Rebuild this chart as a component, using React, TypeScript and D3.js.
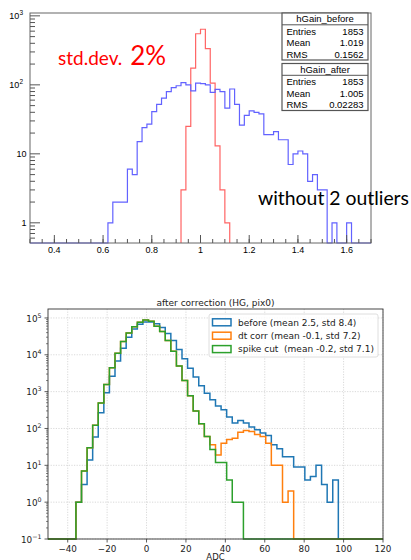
import React from "react";
import * as d3 from "d3";

// ---- top panel (ROOT canvas): gain histograms ----
const gainBinStart = 0.3;
const gainBinWidth = 0.02;
const gainBinCount = 70;
const beforeFirstBin = 0.62;
const gainBefore = [
  1, 2, 2, 2, 6, 5, 15, 24, 27, 41, 52, 64, 80, 91, 97, 108, 100, 82, 106, 104,
  100, 78, 86, 80, 46, 87, 52, 26, 36, 42, 40, 38, 19, 19, 21, 16, 16, 7, 10, 11,
  10, 4, 5, 3, 3, 0, 1, 0, 0, 1,
];
const afterFirstBin = 0.92;
const gainAfter = [3, 25, 175, 550, 640, 335, 106, 13, 3, 1];
const gainXTicks = [0.4, 0.6, 0.8, 1, 1.2, 1.4, 1.6];
const gainXLabels = ["0.4", "0.6", "0.8", "1", "1.2", "1.4", "1.6"];
const gainYExps = [0, 1, 2, 3];
const statsBefore = [["Entries", "1853"], ["Mean", "1.019"], ["RMS", "0.1562"]];
const statsAfter = [["Entries", "1853"], ["Mean", "1.005"], ["RMS", "0.02283"]];

// ---- bottom panel (matplotlib): ADC histograms, 60 bins on [-50, 120] ----
const adcBinStart = -50;
const adcBinWidth = 170 / 60;
const adcBefore = [
  0, 0, 0, 0, 0, 1, 3, 14, 59, 266, 930, 2600, 6800, 15000, 30000, 50000, 67000, 78000, 78000, 70000,
  55000, 38000, 24500, 14000, 7800, 4300, 2500, 1450, 910, 600, 410, 320, 205, 140, 165, 140, 110, 93, 75, 64,
  36, 28, 17, 17, 9, 9, 4, 5, 10, 3, 1, 4, 0, 0, 0, 0, 0, 0, 0, 0,
];
const adcDtCorr = [
  0, 0, 0, 0, 0, 1, 7, 30, 123, 490, 1550, 4450, 11000, 23000, 39000, 58000, 76000, 88000, 82000, 60000,
  43000, 24500, 12400, 5000, 2000, 770, 300, 134, 61, 36, 19, 40, 50, 54, 79, 88, 83, 69, 61, 40,
  10, 10, 1, 2, 0, 0, 0, 0, 0, 0, 0, 0, 0, 0, 0, 0, 0, 0, 0, 0,
];
const adcSpikeCut = [
  0, 0, 0, 0, 0, 1, 7, 30, 123, 490, 1550, 4450, 11000, 23000, 39000, 58000, 76000, 88000, 82000, 60000,
  43000, 24500, 12400, 5000, 2000, 770, 300, 134, 61, 27, 12, 12, 4, 1, 1, 0, 0, 0, 0, 0,
  0, 0, 0, 0, 0, 0, 0, 0, 0, 0, 0, 0, 0, 0, 0, 0, 0, 0, 0, 0,
];
const adcXTicks = [-40, -20, 0, 20, 40, 60, 80, 100, 120];
const adcYExps = [-1, 0, 1, 2, 3, 4, 5];
const legendLabels = [
  "before (mean 2.5, std 8.4)",
  "dt corr (mean -0.1, std 7.2)",
  "spike cut  (mean -0.2, std 7.1)",
];
const legendColors = ["#1f77b4", "#ff7f0e", "#2ca02c"];

type Pt = [number, number];

function stepPath(
  x: d3.ScaleLinear<number, number>,
  y: d3.ScaleLogarithmic<number, number>,
  first: number,
  width: number,
  counts: number[],
  floor: number,
  from?: number,
  to?: number
) {
  const pts: Pt[] = [];
  if (from !== undefined) pts.push([from, floor]);
  pts.push([first, floor]);
  counts.forEach((c, i) => pts.push([first + i * width, Math.max(c, floor)]));
  const end = first + counts.length * width;
  pts.push([end, Math.max(counts[counts.length - 1], floor)]);
  pts.push([end, floor]);
  if (to !== undefined) pts.push([to, floor]);
  return (
    d3
      .line<Pt>()
      .x((d) => x(d[0]))
      .y((d) => y(d[1]))
      .curve(d3.curveStepAfter)(pts) || ""
  );
}

const rootFont = "Liberation Sans, Arial, sans-serif";
const mplFont = "DejaVu Sans, sans-serif";

const TopPanel = () => {
  const L = 30, R = 371, T = 13, B = 243;
  const yMin = 0.51;
  const x = d3.scaleLinear().domain([0.3, 1.7]).range([L, R]);
  const y = d3.scaleLog().domain([yMin, 1100]).range([B, T]);
  const minorX = d3.range(0, 29).map((i) => 0.3 + i * 0.05).filter((v) => v <= 1.7001);
  const minorY: number[] = [];
  [0.1, 1, 10, 100].forEach((d) => {
    for (let k = 2; k <= 9; k++) {
      const v = d * k;
      if (v >= yMin && v <= 1100) minorY.push(v);
    }
  });
  const end = gainBinStart + gainBinCount * gainBinWidth;
  const statBox = (top: number, title: string, rows: string[][]) => (
    <g fontFamily={rootFont} fontSize={9.5} fill="#000">
      <rect x={282} y={top} width={86} height={47} fill="#fff" stroke="#555" strokeWidth={1.2} />
      <line x1={282} x2={368} y1={top + 11.8} y2={top + 11.8} stroke="#555" strokeWidth={1} />
      <text x={325} y={top + 9.4} textAnchor="middle">{title}</text>
      {rows.map((r, i) => (
        <g key={r[0]}>
          <text x={286.5} y={top + 21.6 + i * 11.6}>{r[0]}</text>
          <text x={363.5} y={top + 21.6 + i * 11.6} textAnchor="end">{r[1]}</text>
        </g>
      ))}
    </g>
  );
  return (
    <g>
      <defs>
        <clipPath id="topClip">
          <rect x={L} y={T} width={R - L} height={B - T + 1} />
        </clipPath>
      </defs>
      <g clipPath="url(#topClip)" fill="none" strokeWidth={1.2}>
        <path
          d={stepPath(x, y, afterFirstBin, gainBinWidth, gainAfter, yMin)}
          stroke="#ff6464"
        />
        <path
          d={stepPath(x, y, beforeFirstBin, gainBinWidth, gainBefore, yMin, gainBinStart, end)}
          stroke="#6262ff"
        />
      </g>
      <rect x={L} y={T} width={R - L} height={B - T} fill="none" stroke="#666" strokeWidth={1} />
      {gainXTicks.map((v) => (
        <line key={v} x1={x(v)} x2={x(v)} y1={B} y2={B - 8} stroke="#555" />
      ))}
      {minorX.map((v) => (
        <line key={"m" + v} x1={x(v)} x2={x(v)} y1={B} y2={B - 4} stroke="#555" />
      ))}
      {gainXTicks.map((v, i) => (
        <text key={"l" + v} x={x(v)} y={B + 9.5} textAnchor="middle" fontFamily={rootFont} fontSize={9} fill="#000">
          {gainXLabels[i]}
        </text>
      ))}
      {gainYExps.map((e) => (
        <line key={e} x1={L} x2={L + 10} y1={y(10 ** e)} y2={y(10 ** e)} stroke="#555" />
      ))}
      {minorY.map((v) => (
        <line key={"m" + v} x1={L} x2={L + 5} y1={y(v)} y2={y(v)} stroke="#555" />
      ))}
      {gainYExps.map((e) => (
        <text
          key={"l" + e}
          x={e < 2 ? 26.5 : 23}
          y={y(10 ** e) + 3.3}
          textAnchor="end"
          fontFamily={rootFont}
          fontSize={9}
          fill="#000"
        >
          {e === 0 ? "1" : "10"}
          {e >= 2 && (
            <tspan fontSize={6.5} dy={-3.8}>
              {String(e)}
            </tspan>
          )}
        </text>
      ))}
      {statBox(13, "hGain_before", statsBefore)}
      {statBox(63.5, "hGain_after", statsAfter)}
      <text x={58} y={65} fontFamily="Lato, Open Sans, sans-serif" fill="#ff0000">
        <tspan fontSize={19}>std.dev. </tspan>
        <tspan fontSize={26} dx={3}>2%</tspan>
      </text>
      <text
        x={258}
        y={205}
        fontFamily="Lato, Open Sans, sans-serif"
        fontSize={19}
        fill="#000"
        textLength={151}
        lengthAdjust="spacingAndGlyphs"
      >
        without 2 outliers
      </text>
    </g>
  );
};

const BottomPanel = () => {
  const L = 48, R = 383, T = 309, B = 539;
  const yMin = 0.1;
  const x = d3.scaleLinear().domain([-50, 120]).range([L, R]);
  const y = d3.scaleLog().domain([yMin, 1.75e5]).range([B, T]);
  const minorY: number[] = [];
  adcYExps.forEach((e) => {
    for (let k = 2; k <= 9; k++) {
      const v = k * 10 ** e;
      if (v <= 1.75e5) minorY.push(v);
    }
  });
  const series = [adcBefore, adcDtCorr, adcSpikeCut];
  const minus = (s: string) => s.replace("-", "\u2212");
  return (
    <g>
      <defs>
        <clipPath id="botClip">
          <rect x={L} y={T} width={R - L} height={B - T + 1} />
        </clipPath>
      </defs>
      <g stroke="#cfcfcf" strokeWidth={0.8} strokeDasharray="1.2,1.4">
        {adcXTicks.map((v) => (
          <line key={v} x1={x(v)} x2={x(v)} y1={T} y2={B} />
        ))}
        {adcYExps.map((e) => (
          <line key={e} x1={L} x2={R} y1={y(10 ** e)} y2={y(10 ** e)} />
        ))}
      </g>
      <g clipPath="url(#botClip)" fill="none" strokeWidth={1.5}>
        {series.map((s, i) => (
          <path
            key={i}
            d={stepPath(x, y, adcBinStart, adcBinWidth, s, yMin)}
            stroke={legendColors[i]}
          />
        ))}
      </g>
      <rect x={L} y={T} width={R - L} height={B - T} fill="none" stroke="#333" strokeWidth={0.9} />
      {adcXTicks.map((v) => (
        <g key={v}>
          <line x1={x(v)} x2={x(v)} y1={B} y2={B + 3.5} stroke="#333" strokeWidth={0.8} />
          <text x={x(v)} y={B + 12.5} textAnchor="middle" fontFamily={mplFont} fontSize={8.8} fill="#222">
            {minus(String(v))}
          </text>
        </g>
      ))}
      {minorY.map((v) => (
        <line key={"m" + v} x1={L - 2} x2={L} y1={y(v)} y2={y(v)} stroke="#333" strokeWidth={0.6} />
      ))}
      {adcYExps.map((e) => (
        <g key={e}>
          <line x1={L - 3.5} x2={L} y1={y(10 ** e)} y2={y(10 ** e)} stroke="#333" strokeWidth={0.8} />
          <text x={41.5} y={y(10 ** e) + 3.6} textAnchor="end" fontFamily={mplFont} fontSize={8.8} fill="#222">
            10
            <tspan fontSize={6.3} dy={-3.9}>
              {minus(String(e))}
            </tspan>
          </text>
        </g>
      ))}
      <text x={(L + R) / 2} y={306} textAnchor="middle" fontFamily={mplFont} fontSize={9} fill="#222">
        after correction (HG, pix0)
      </text>
      <text x={(L + R) / 2} y={560} textAnchor="middle" fontFamily={mplFont} fontSize={8.5} fill="#222">
        ADC
      </text>
      <g fontFamily={mplFont} fontSize={9} fill="#222">
        <rect x={209} y={314} width={169} height={43} rx={2} fill="#fff" fillOpacity={0.8} stroke="#d6d6d6" strokeWidth={0.8} />
        {legendLabels.map((lab, i) => {
          const cy = 322.3 + i * 13.4;
          return (
            <g key={lab}>
              <rect x={212.5} y={cy - 3.5} width={18.5} height={7} fill="none" stroke={legendColors[i]} strokeWidth={1.5} />
              <text x={238} y={cy + 3.2} style={{ whiteSpace: "pre" }}>
                {lab}
              </text>
            </g>
          );
        })}
      </g>
    </g>
  );
};

export default function App() {
  return (
    <svg
      width={411}
      height={560}
      style={{ position: "absolute", left: 0, top: 0, background: "#fff" }}
    >
      <rect width={411} height={560} fill="#fff" />
      <TopPanel />
      <BottomPanel />
    </svg>
  );
}
